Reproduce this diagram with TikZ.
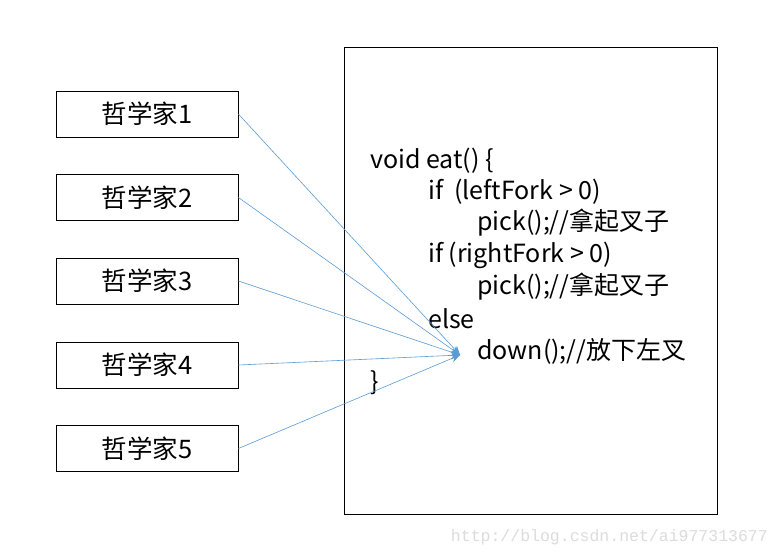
\documentclass[tikz,border=0pt]{standalone}
\usepackage{fontspec}
\setmainfont{Noto Sans CJK SC}
\newfontfamily\wmfont{Liberation Mono}
\usetikzlibrary{arrows.meta}
\definecolor{arrowblue}{HTML}{5B9BD5}
\definecolor{wmgray}{HTML}{DCDCDC}
\begin{document}
\begin{tikzpicture}[x=1pt,y=-1pt,
  phil/.style={draw, line width=0.8pt, minimum width=182pt, minimum height=46pt, inner sep=0pt, font=\fontsize{25.5}{28}\selectfont},
  codeline/.style={anchor=west, inner sep=0pt, font=\fontsize{25}{28}\selectfont},
  link/.style={arrowblue, line width=0.6pt, -{Stealth[length=9pt,width=8pt]}}]
\useasboundingbox[fill=white] (0,0) rectangle (779,556);
\node[draw, line width=0.8pt, minimum width=373pt, minimum height=467pt, inner sep=0pt] (main) at (530.5,280.5) {};
\node[phil] (p1) at (147,114) {哲学家1};
\node[phil] (p2) at (147,197.5) {哲学家2};
\node[phil] (p3) at (147,281) {哲学家3};
\node[phil] (p4) at (147,365) {哲学家4};
\node[phil] (p5) at (147,448.5) {哲学家5};
\node[codeline] (l1) at (370,161) {void eat() \{};
\node[codeline] (l2) at (428,192) {if~~(leftFork > 0)};
\node[codeline] (l3) at (477,223) {pick();//拿起叉子};
\node[codeline] (l4) at (428,255) {if (rightFork > 0)};
\node[codeline] (l5) at (477,287) {pick();//拿起叉子};
\node[codeline] (l6) at (428,319) {else};
\node[codeline] (l7) at (477,351) {down();//放下左叉};
\node[codeline] (l8) at (370,383) {\}};
\coordinate (tip) at (460,355);
\foreach \i in {1,...,5} \draw[link] (p\i.east) -- (tip);
\node[anchor=east, inner sep=0pt, text=wmgray, font=\wmfont\fontsize{16.5}{18}\selectfont] (wm) at (768,537) {http://blog.csdn.net/ai977313677};
\end{tikzpicture}
\end{document}
